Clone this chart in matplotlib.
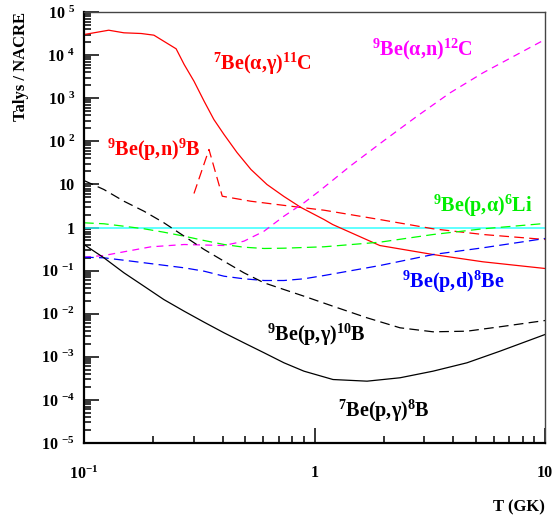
import matplotlib
matplotlib.use("Agg")
import matplotlib.pyplot as plt
from matplotlib.ticker import FixedLocator, FixedFormatter, LogLocator, NullFormatter

plt.rcParams["font.family"] = ["Liberation Serif", "DejaVu Serif"]
plt.rcParams["font.weight"] = "bold"
plt.rcParams["mathtext.fontset"] = "custom"
plt.rcParams["mathtext.rm"] = "Liberation Serif:bold"
plt.rcParams["mathtext.it"] = "Liberation Serif:bold"
plt.rcParams["mathtext.bf"] = "Liberation Serif:bold"
plt.rcParams["lines.scale_dashes"] = False

# --- données (T en GK, rapport Talys / NACRE) ---
T_be7ag = [0.1, 0.128, 0.149, 0.177, 0.201, 0.251, 0.272, 0.3, 0.332, 0.366, 0.405, 0.461,
           0.53, 0.622, 0.737, 0.874, 1.1, 1.2, 1.92, 3.27, 5.38, 10]
R_be7ag = [3.0e4, 3.78e4, 3.29e4, 3.17e4, 2.9e4, 1.40e4, 6.05e3, 2.48e3, 851, 320, 144, 55,
           22.2, 9.95, 5.24, 2.91, 1.53, 1.17, 0.382, 0.236, 0.16, 0.112]

T_be9pn = [0.3, 0.3485, 0.398, 0.529, 0.788, 1.1, 1.92, 3.27, 5.38, 10]
R_be9pn = [6.15, 64.5, 5.32, 4.07, 3.12, 2.52, 1.53, 0.933, 0.688, 0.527]

T_be9pa = [0.1, 0.122, 0.149, 0.182, 0.222, 0.272, 0.332, 0.405, 0.494, 0.604, 0.737, 1.1,
           1.92, 3.27, 5.38, 10]
R_be9pa = [1.285, 1.22, 1.07, 0.933, 0.778, 0.629, 0.499, 0.403, 0.349, 0.326, 0.331, 0.357,
           0.456, 0.688, 0.933, 1.24]

T_be9an = [0.1, 0.122, 0.154, 0.195, 0.272, 0.405, 0.494, 0.604, 0.737, 0.9, 1.057, 1.426,
           1.983, 2.785, 3.872, 5.383, 7.557, 10]
R_be9an = [0.2046, 0.224, 0.282, 0.356, 0.403, 0.382, 0.481, 0.82, 1.83, 3.74, 7.22, 26.4,
           100, 382, 1.33e3, 3.88e3, 1.03e4, 2.3e4]

T_be9pd = [0.1, 0.122, 0.149, 0.182, 0.222, 0.272, 0.332, 0.405, 0.494, 0.604, 0.737, 0.9,
           1.1, 1.92, 3.27, 5.38, 10]
R_be9pd = [0.2046, 0.198, 0.174, 0.152, 0.133, 0.116, 0.0969, 0.0741, 0.0645, 0.0589, 0.0589,
           0.0645, 0.0769, 0.131, 0.236, 0.338, 0.556]

T_be9pg = [0.1, 0.122, 0.149, 0.182, 0.222, 0.272, 0.332, 0.405, 0.494, 0.604, 0.737, 0.9,
           1.203, 1.69, 2.349, 3.267, 4.587, 6.377, 10]
R_be9pg = [12.3, 7.61, 4.07, 2.39, 1.29, 0.629, 0.309, 0.165, 0.0889, 0.0521, 0.0364, 0.0255,
           0.0149, 8.03e-3, 4.71e-3, 3.8e-3, 3.93e-3, 4.97e-3, 6.95e-3]

T_be7pg = [0.1, 0.122, 0.149, 0.182, 0.222, 0.272, 0.332, 0.405, 0.494, 0.604, 0.737, 0.9,
           1.203, 1.69, 2.349, 3.267, 4.587, 6.377, 10]
R_be7pg = [0.403, 0.198, 0.0889, 0.0435, 0.0213, 0.01142, 6.35e-3, 3.6e-3, 2.11e-3, 1.24e-3,
           7.26e-4, 4.64e-4, 2.97e-4, 2.72e-4, 3.26e-4, 4.64e-4, 7.26e-4, 1.35e-3, 3.29e-3]

T_unit = [0.1, 10]
R_unit = [1, 1]

Y_TICKS = [1e-5, 1e-4, 1e-3, 1e-2, 1e-1, 1, 10, 1e2, 1e3, 1e4, 1e5]
Y_LABELS = ["10 $^{-5}$", "10 $^{-4}$", "10 $^{-3}$", "10 $^{-2}$", "10 $^{-1}$", "1", "10",
            "10 $^{2}$", "10 $^{3}$", "10 $^{4}$", "10 $^{5}$"]
X_TICKS = [0.1, 1, 10]
X_LABELS = ["10$^{-1}$", "1", "10"]

DASH = (0, (7.0, 3.8))

fig = plt.figure(figsize=(5.56, 5.18), dpi=100, facecolor="white")
ax = fig.add_axes([84 / 556, 1 - 443 / 518, 461 / 556, 431 / 518])
ax.set_xscale("log")
ax.set_yscale("log")
ax.set_xlim(0.1, 10)
ax.set_ylim(1e-5, 1e5)

ax.plot(T_unit, R_unit, color="#33ffff", lw=1.1, zorder=2)
ax.plot(T_be7ag, R_be7ag, color="#ff0000", lw=0.9)
ax.plot(T_be9pn, R_be9pn, color="#ff0000", lw=0.9, linestyle=DASH)
ax.plot(T_be9pa, R_be9pa, color="#00ff00", lw=0.9, linestyle=DASH)
ax.plot(T_be9an, R_be9an, color="#ff00ff", lw=0.9, linestyle=(0, (5.0, 3.8)))
ax.plot(T_be9pd, R_be9pd, color="#0000ff", lw=0.9, linestyle=DASH)
ax.plot(T_be9pg, R_be9pg, color="#000000", lw=0.9, linestyle=DASH)
ax.plot(T_be7pg, R_be7pg, color="#000000", lw=0.9)

# cadre façon ROOT
for s in ("left", "bottom"):
    ax.spines[s].set_linewidth(1.6)
    ax.spines[s].set_color("black")
for s in ("top", "right"):
    ax.spines[s].set_linewidth(1.0)
    ax.spines[s].set_color("#444444")

ax.yaxis.set_major_locator(FixedLocator(Y_TICKS))
ax.yaxis.set_major_formatter(FixedFormatter(Y_LABELS))
ax.yaxis.set_minor_locator(LogLocator(base=10, subs=range(2, 10), numticks=20))
ax.yaxis.set_minor_formatter(NullFormatter())
ax.xaxis.set_major_locator(FixedLocator(X_TICKS))
ax.xaxis.set_major_formatter(FixedFormatter(X_LABELS))
ax.xaxis.set_minor_locator(LogLocator(base=10, subs=range(2, 10), numticks=20))
ax.xaxis.set_minor_formatter(NullFormatter())

ax.tick_params(which="major", direction="in", length=10.5, width=1.1, color="black")
ax.tick_params(which="minor", direction="in", length=5.2, width=1.1, color="black")
ax.tick_params(axis="y", which="both", pad=6.5, labelsize=11.5)
ax.tick_params(axis="x", which="both", pad=16, labelsize=11.5)

# étiquettes des réactions
lab = dict(transform=ax.transAxes, fontsize=14.5, fontweight="bold", ha="left", va="baseline")
ax.text(0.280, 0.865, "$^{7}$Be(α,γ)$^{11}$C", color="#ff0000", **lab)
ax.text(0.625, 0.900, "$^{9}$Be(α,n)$^{12}$C", color="#ff00ff", **lab)
ax.text(0.050, 0.666, "$^{9}$Be(p,n)$^{9}$B", color="#ff0000", **lab)
ax.text(0.757, 0.536, "$^{9}$Be(p,α)$^{6}$Li", color="#00ee00", **lab)
ax.text(0.690, 0.360, "$^{9}$Be(p,d)$^{8}$Be", color="#0000ff", **lab)
ax.text(0.397, 0.237, "$^{9}$Be(p,γ)$^{10}$B", color="#000000", **lab)
ax.text(0.551, 0.060, "$^{7}$Be(p,γ)$^{8}$B", color="#000000", **lab)

fig.text(21 / 556, 1 - 12 / 518, "Talys / NACRE", rotation=90, ha="center", va="top",
         fontsize=12, fontweight="bold")
fig.text(545 / 556, 1 - 507 / 518, "T (GK)", ha="right", va="center",
         fontsize=12, fontweight="bold")

fig.savefig("out.png", dpi=100, facecolor="white")
